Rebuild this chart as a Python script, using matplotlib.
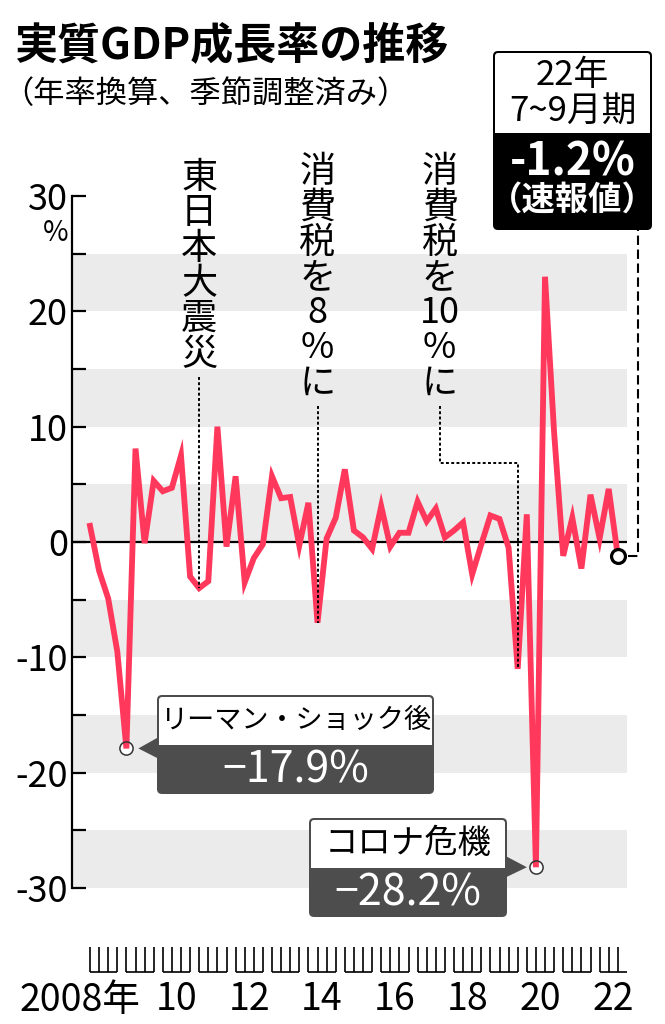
import matplotlib
matplotlib.use("Agg")
import matplotlib.pyplot as plt
import matplotlib.transforms as mtransforms
from matplotlib import font_manager
from matplotlib.patches import FancyBboxPatch, Rectangle, Polygon
import numpy as np

# === Data ===
# Real GDP growth (annualised, seasonally adjusted), 2008 Q1 ... 2022 Q3, in %
gdp_growth = [
    1.4, -2.5, -4.9, -9.5,     # 2008
    -17.9, 8.1, -0.1, 5.3,     # 2009
    4.4, 4.7, 7.5, -3.0,       # 2010
    -4.0, -3.4, 10.0, -0.4,    # 2011
    5.7, -3.5, -1.4, -0.2,     # 2012
    5.7, 3.8, 3.9, -0.3,       # 2013
    3.4, -7.0, 0.3, 2.1,       # 2014
    6.3, 1.0, 0.4, -0.6,       # 2015
    3.1, -0.4, 0.8, 0.8,       # 2016
    3.5, 1.8, 2.9, 0.4,        # 2017
    1.0, 1.7, -2.8, -0.2,      # 2018
    2.3, 2.0, -0.5, -11.0,     # 2019
    2.4, -28.2, 23.0, 9.5,     # 2020
    -1.2, 2.1, -2.3, 4.1,      # 2021
    0.3, 4.6, -1.2,            # 2022
]
years = list(range(2008, 2023))
label_years = [2008, 2010, 2012, 2014, 2016, 2018, 2020, 2022]
x_labels = ["2008年", "10", "12", "14", "16", "18", "20", "22"]
y_ticks = [-30, -20, -10, 0, 10, 20, 30]

events = ["東日本大震災", "消費税を8%に", "消費税を10%に"]
event_quarters = [12, 25, 47]

callout_titles = ["リーマン・ショック後", "コロナ危機"]
callout_quarters = [4, 49]

latest_period = ["22年", "7~9月期"]
latest_note = "（速報値）"

# === Layout (pixels of the 665x1024 picture) ===
W, H = 665, 1024
AX_L, AX_R, AX_T, AX_B = 72, 627, 196, 888
Q0_PX, Q_STEP = 90, 9.1
RED = "#FF385C"
DARK = "#4d4d4d"
BAND = "#ebebeb"

plt.rcParams["font.family"] = ["Noto Sans CJK JP", "DejaVu Sans"]
plt.rcParams["axes.unicode_minus"] = False

names = {f.name for f in font_manager.fontManager.ttflist}
if "Liberation Sans Narrow" in names:
    xlab_family, xlab_size = ["Liberation Sans Narrow", "Noto Sans CJK JP"], 32
else:
    xlab_family, xlab_size = ["Noto Sans CJK JP", "DejaVu Sans"], 27

fig = plt.figure(figsize=(W / 100, H / 100), dpi=100, facecolor="white")

q = np.arange(len(gdp_growth))
xlim = ((AX_L - Q0_PX) / Q_STEP, (AX_R - Q0_PX) / Q_STEP)

# main plot
ax = fig.add_axes([AX_L / W, 1 - AX_B / H, (AX_R - AX_L) / W, (AX_B - AX_T) / H])
ax.set_facecolor("none")
ax.set_xlim(*xlim)
ax.set_ylim(-30, 30)

for k in range(-30, 30, 10):
    ax.axhspan(k, k + 5, color=BAND, lw=0, zorder=0)
ax.axhline(0, color="black", lw=1.6, zorder=1)

ax.plot(q, gdp_growth, color=RED, lw=4.2, solid_joinstyle="miter", zorder=4)

# callout circles (thin ring, white inside)
cq = np.array(callout_quarters)
cv = np.array([gdp_growth[i] for i in callout_quarters])
ax.plot(cq, cv, "o", ms=9.5, mfc="white", mec="none", zorder=3)
ax.plot(cq, cv, "o", ms=9.5, mfc="none", mec="#333333", mew=1.1, zorder=5)
# latest quarter: thick black ring
ax.plot(q[-1], gdp_growth[-1], "o", ms=10, mfc="white", mec="black", mew=2.3, zorder=6)

for s in ["top", "right", "bottom"]:
    ax.spines[s].set_visible(False)
ax.spines["left"].set_linewidth(1.6)
ax.set_xticks([])
ax.set_yticks(y_ticks)
ax.set_yticks(list(range(-25, 30, 10)), minor=True)
ax.set_yticklabels([str(v) for v in y_ticks])
ax.tick_params(axis="y", which="both", direction="in", length=10, width=1.6,
               labelsize=26, pad=3)

# quarter comb under the plot
axb = fig.add_axes([AX_L / W, 1 - 972 / H, (AX_R - AX_L) / W, (972 - 947) / H])
axb.set_xlim(*xlim)
axb.set_ylim(0, 1)
axb.axis("off")
axb.vlines(q, 0, 1, color="black", lw=1.2, clip_on=False)
for i, yr in enumerate(years):
    axb.hlines(0, 4 * i, 4 * i + 3, color="black", lw=1.2, clip_on=False)

# overlay in pixel coordinates for the annotations
ov = fig.add_axes([0, 0, 1, 1], zorder=10)
ov.set_xlim(0, W)
ov.set_ylim(H, 0)
ov.axis("off")
ov.patch.set_alpha(0)


def to_px(i, v):
    x, y = ax.transData.transform((i, v))
    return x, H - y


# x labels
lab_tr = mtransforms.blended_transform_factory(axb.transData, ov.transData)
for yr, lab in zip(label_years, x_labels):
    xc = 4 * (yr - years[0]) + 1.5
    if yr == years[0]:
        ov.text(xc + 4.0, 1000, lab, transform=lab_tr, ha="right", va="center",
                fontsize=xlab_size, family=xlab_family)
    else:
        ov.text(xc, 1000, lab, transform=lab_tr, ha="center", va="center",
                fontsize=xlab_size, family=xlab_family)

# title, subtitle, unit
ov.text(14, 45, "実質GDP成長率の推移", fontsize=31, fontweight="bold", ha="left", va="center")
ov.text(2, 94, "（年率換算、季節調整済み）", fontsize=22.5, ha="left", va="center")
ov.text(56, 233, "%", fontsize=20, ha="center", va="center")


# vertical event labels with dotted leaders
def split_units(s):
    out = []
    for ch in s:
        if ch.isdigit() and out and out[-1].isdigit():
            out[-1] += ch
        else:
            out.append(ch)
    return out


dot_style = dict(color="black", lw=1.4, linestyle=(0, (1.5, 1.2)))
text_tops = [178, 172, 172]
text_dx = [0, 0, -78]
pitch = 35.3
for name, qi, top, dx in zip(events, event_quarters, text_tops, text_dx):
    px, py = to_px(qi, gdp_growth[qi])
    tx = px + dx
    parts = split_units(name)
    for j, u in enumerate(parts):
        ov.text(tx, top + j * pitch, u, fontsize=26, ha="center", va="center")
    y_start = top + (len(parts) - 1) * pitch + 22
    if dx == 0:
        ov.plot([px, px], [y_start, py], **dot_style)
    else:
        ov.plot([tx, tx, px, px], [y_start, 463, 463, py], **dot_style)


# callout boxes
def two_tone_box(left, top, right, split, bottom, dark, edge_w=2):
    ov.add_patch(FancyBboxPatch((left, top), right - left, bottom - top,
                                boxstyle="round,pad=0,rounding_size=5",
                                fc=dark, ec="none", lw=0))
    ov.add_patch(FancyBboxPatch((left + edge_w, top + edge_w), right - left - 2 * edge_w,
                                split - top - edge_w,
                                boxstyle="round,pad=0,rounding_size=3",
                                fc="white", ec="none", lw=0))
    ov.add_patch(Rectangle((left + edge_w, split - 8), right - left - 2 * edge_w, 8,
                           fc="white", ec="none", lw=0))


boxes = [(157, 695, 434, 745, 794), (309, 818, 507, 868, 917)]
title_sizes = [19.5, 24]
for title, qi, (l, t, r, sp, b), fs in zip(callout_titles, callout_quarters, boxes, title_sizes):
    v = gdp_growth[qi]
    px, py = to_px(qi, v)
    two_tone_box(l, t, r, sp, b, DARK)
    if px < l:
        tri = [(l + 1, py - 11), (l + 1, py + 10), (px + 12, py)]
    else:
        tri = [(r - 1, py - 11), (r - 1, py + 10), (px - 9, py)]
    ov.add_patch(Polygon(tri, closed=True, fc=DARK, ec="none"))
    xc = (l + r) / 2
    ov.text(xc, (t + sp) / 2, title, fontsize=fs, ha="center", va="center", color="black")
    ov.text(xc, (sp + b) / 2 + 1, "\u2212" + f"{abs(v):.1f}%", fontsize=31,
            ha="center", va="center", color="white")

# latest quarter box
bl, bt, br, bs, bb = 493, 51, 652, 133, 230
two_tone_box(bl, bt, br, bs, bb, "black")
bx = (bl + br) / 2
ov.text(bx, 75, latest_period[0], fontsize=25, ha="center", va="center")
ov.text(bx, 112, latest_period[1], fontsize=25, ha="center", va="center")
ov.text(bx, 162, f"{gdp_growth[-1]:.1f}%", fontsize=32, fontweight="bold",
        ha="center", va="center", color="white")
ov.text(bx, 200, latest_note, fontsize=24, fontweight="bold",
        ha="center", va="center", color="white")

lx, ly = to_px(q[-1], gdp_growth[-1])
ov.plot([lx + 10, 638, 638], [ly, ly, bb], color="black", lw=1.5,
        linestyle=(0, (4.5, 2.2)))

fig.savefig("out.png", dpi=100)
